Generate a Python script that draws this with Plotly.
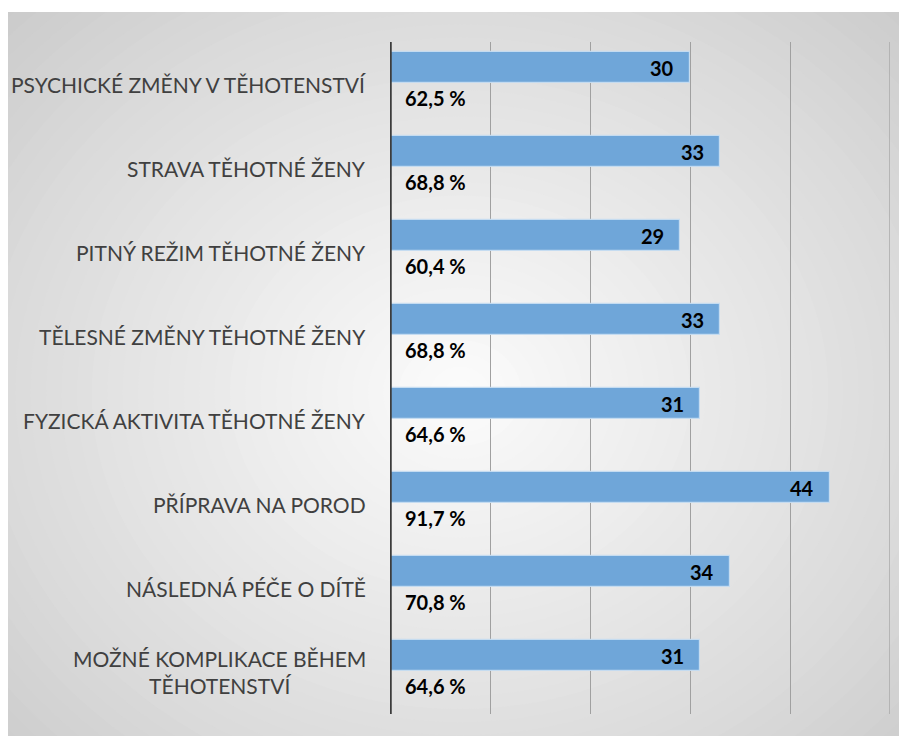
import plotly.graph_objects as go

categories = [
    "PSYCHICKÉ ZMĚNY V TĚHOTENSTVÍ",
    "STRAVA TĚHOTNÉ ŽENY",
    "PITNÝ REŽIM TĚHOTNÉ ŽENY",
    "TĚLESNÉ ZMĚNY TĚHOTNÉ ŽENY",
    "FYZICKÁ AKTIVITA TĚHOTNÉ ŽENY",
    "PŘÍPRAVA NA POROD",
    "NÁSLEDNÁ PÉČE O DÍTĚ",
    "MOŽNÉ KOMPLIKACE BĚHEM<br>TĚHOTENSTVÍ",
]
counts = [30, 33, 29, 33, 31, 44, 34, 31]
percent_labels = ["62,5 %", "68,8 %", "60,4 %", "68,8 %", "64,6 %", "91,7 %", "70,8 %", "64,6 %"]
x_ticks = [0, 10, 20, 30, 40, 50]

W, H = 907, 736
ML, MR, MT, MB = 382, 25, 34, 30
PW, PH = W - ML - MR, H - MT - MB


def px_to_paper(px, py):
    return (px - ML) / PW, (H - MB - py) / PH


idx = list(range(len(categories)))
bar_offset = -0.196
label_offset = 0.167

fig = go.Figure()
fig.add_trace(go.Bar(
    x=counts,
    y=[i + bar_offset for i in idx],
    orientation="h",
    width=0.37,
    marker=dict(color="rgb(111,166,217)", line=dict(color="rgba(200,222,242,0.9)", width=1.2)),
    hoverinfo="skip",
))

# background gradient (radial) via concentric ellipses
shapes = []
x0, y0 = px_to_paper(0, 4)
x1, y1 = px_to_paper(W + 10, H + 10)
shapes.append(dict(type="rect", xref="paper", yref="paper", x0=x0, y0=y1, x1=x1, y1=y0,
                   fillcolor="rgb(200,200,200)", line=dict(width=0), layer="below"))
cx, cy = 452, 385
rx, ry = 460, 395
N = 45
rmax = 1.5
for k in range(N):
    r = rmax * (1 - k / N)
    if r <= 1:
        c = 252 - 33 * r
    else:
        c = 219 - 40 * (r - 1)
    c = int(round(c))
    ax0, ay0 = px_to_paper(cx - rx * r, cy - ry * r)
    ax1, ay1 = px_to_paper(cx + rx * r, cy + ry * r)
    shapes.append(dict(type="circle", xref="paper", yref="paper",
                       x0=ax0, x1=ax1, y0=ay1, y1=ay0,
                       fillcolor=f"rgb({c},{c},{c})", line=dict(width=0), layer="below"))
# white outer margin (top)
shapes.append(dict(type="rect", xref="paper", yref="paper", x0=-2, x1=3, y0=y0, y1=3,
                   fillcolor="white", line=dict(width=0), layer="below"))
# last gridline at the range end
shapes.append(dict(type="line", xref="x", yref="paper", x0=x_ticks[-1], x1=x_ticks[-1], y0=0, y1=1,
                   line=dict(color="rgb(170,170,170)", width=1.5), layer="below"))
# axis line at x=0
shapes.append(dict(type="line", xref="x", yref="paper", x0=0, x1=0, y0=0, y1=1,
                   line=dict(color="rgb(60,60,60)", width=3.5), layer="above"))

annotations = []
for i in idx:
    annotations.append(dict(x=counts[i], y=i + bar_offset, xref="x", yref="y",
                            text=f"<b>{counts[i]}</b>", showarrow=False,
                            xanchor="right", xshift=-14,
                            font=dict(family="Lato", size=20, color="black")))
    annotations.append(dict(x=0, y=i + label_offset, xref="x", yref="y",
                            text=f"<b>{percent_labels[i]}</b>", showarrow=False,
                            xanchor="left", xshift=13,
                            font=dict(family="Lato", size=20, color="black")))
    annotations.append(dict(x=0, y=i, xref="paper", yref="y",
                            text=categories[i], showarrow=False, align="center",
                            xanchor="right", xshift=-22,
                            font=dict(family="Lato", size=21, color="rgb(64,64,64)")))

fig.update_layout(
    width=W, height=H,
    margin=dict(l=ML, r=MR, t=MT, b=MB),
    paper_bgcolor="white",
    plot_bgcolor="rgba(0,0,0,0)",
    showlegend=False,
    bargap=0,
    shapes=shapes,
    annotations=annotations,
    xaxis=dict(range=[0, 50], tickvals=x_ticks, showticklabels=False,
               showgrid=True, gridcolor="rgb(160,160,160)", gridwidth=1,
               zeroline=False, showline=False, fixedrange=True),
    yaxis=dict(range=[len(categories) - 0.5, -0.5], showticklabels=False,
               showgrid=False, zeroline=False, showline=False, fixedrange=True),
)

fig.write_html("out.html")
